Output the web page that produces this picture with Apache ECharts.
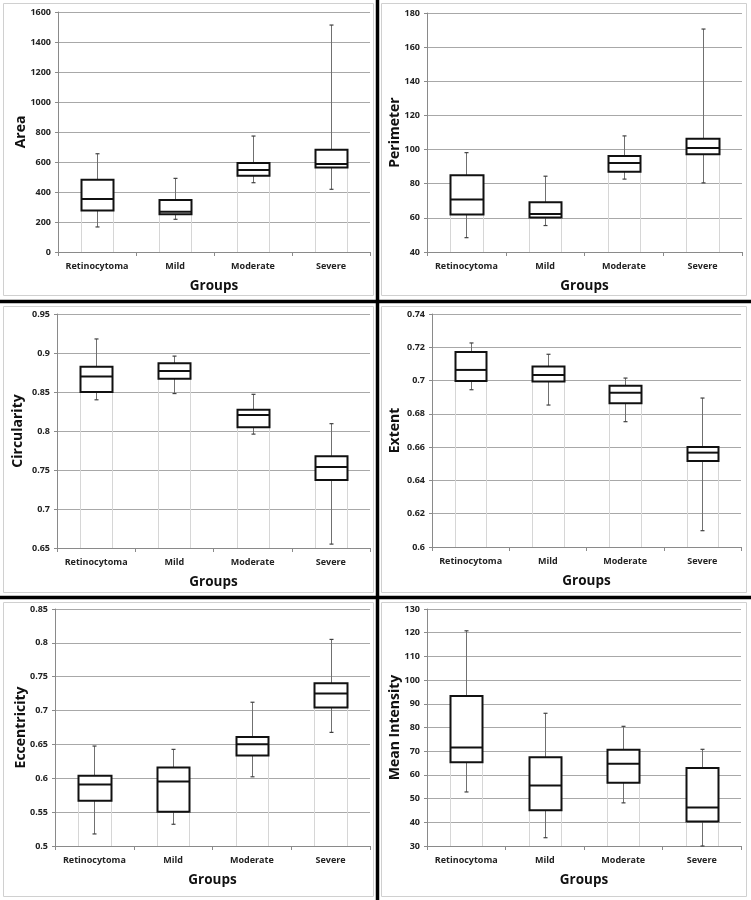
<!DOCTYPE html>
<html><head><meta charset="utf-8">
<script src="https://cdn.jsdelivr.net/npm/echarts/dist/echarts.min.js"></script>
<style>html,body{margin:0;padding:0;background:#fff}#c{width:751px;height:900px}</style>
</head><body><div id="c"></div>
<script>
const categories = ['Retinocytoma', 'Mild', 'Moderate', 'Severe'];
const xAxisTitle = 'Groups';
// each entry: [min, Q1, median, Q3, max] per category
const areaValues = [[167, 276, 353, 482, 655], [218, 251, 268, 347, 491], [462, 509, 547, 593, 773], [418, 564, 587, 682, 1513]];
const perimeterValues = [[48.4, 61.9, 70.7, 85, 98.2], [55.5, 60.2, 62.3, 69.2, 84.4], [82.7, 87, 92.1, 96.2, 108], [80.5, 97.2, 100.9, 106.4, 170.6]];
const circularityValues = [[0.840, 0.850, 0.870, 0.8825, 0.918], [0.848, 0.867, 0.877, 0.887, 0.896], [0.796, 0.8047, 0.8205, 0.8274, 0.847], [0.655, 0.7372, 0.7538, 0.7675, 0.8094]];
const extentValues = [[0.6945, 0.6997, 0.7064, 0.7172, 0.7226], [0.6853, 0.6995, 0.7033, 0.7084, 0.7158], [0.6753, 0.6863, 0.6927, 0.6969, 0.7015], [0.6098, 0.6517, 0.6567, 0.6601, 0.6895]];
const eccentricityValues = [[0.5178, 0.5667, 0.5909, 0.6037, 0.6476], [0.5321, 0.5504, 0.5953, 0.616, 0.6427], [0.6022, 0.6338, 0.6501, 0.661, 0.7123], [0.6678, 0.7044, 0.7252, 0.7405, 0.8051]];
const intensityValues = [[52.8, 65.3, 71.6, 93.3, 120.8], [33.5, 45.1, 55.5, 67.5, 86], [48.2, 56.7, 64.7, 70.6, 80.5], [30, 40.3, 46.2, 62.9, 70.8]];

const panelTitles = ['Area', 'Perimeter', 'Circularity', 'Extent', 'Eccentricity', 'Mean Intensity'];
const panelData = [areaValues, perimeterValues, circularityValues, extentValues, eccentricityValues, intensityValues];
const yMins = [0, 40, 0.65, 0.6, 0.5, 30];
const yMaxs = [1600, 180, 0.95, 0.74, 0.85, 130];
const yIntervals = [200, 20, 0.05, 0.02, 0.05, 10];

// layout (pixels)
const grids = [
  {left: 58, top: 12, width: 312, height: 240},
  {left: 427, top: 13, width: 315, height: 239},
  {left: 57, top: 314, width: 313, height: 234},
  {left: 432, top: 314, width: 309, height: 233},
  {left: 55, top: 609, width: 315, height: 237},
  {left: 427, top: 609, width: 314, height: 237}
];
const yNameGaps = [30, 25, 32, 30, 27, 25];

const FONT = '"Open Sans", sans-serif';

function makeRender(p) {
  return function (params, api) {
    const idx = api.value(0);
    const vmin = api.value(1), q1 = api.value(2), med = api.value(3), q3 = api.value(4), vmax = api.value(5);
    const bw = api.size([1, 0])[0] * 0.41;
    const cx = api.coord([idx, med])[0];
    const y = v => api.coord([idx, v])[1];
    const x0 = Math.round(cx - bw / 2) + 0.5, x1 = Math.round(cx + bw / 2) + 0.5;
    const yb = y(yMins[p]);
    const ymin = y(vmin), yq1 = y(q1), ymed = y(med), yq3 = y(q3), ymax = y(vmax);
    const cxr = Math.round(cx) + 0.5;
    const faint = {stroke: '#d6d6d6', lineWidth: 1};
    const whisk = {stroke: '#707070', lineWidth: 1};
    const cap = {stroke: '#404040', lineWidth: 1.2};
    return {
      type: 'group',
      children: [
        {type: 'line', shape: {x1: x0, y1: yq1, x2: x0, y2: yb}, style: faint},
        {type: 'line', shape: {x1: x1, y1: yq1, x2: x1, y2: yb}, style: faint},
        {type: 'line', shape: {x1: cxr, y1: ymax, x2: cxr, y2: yq3}, style: whisk},
        {type: 'line', shape: {x1: cxr, y1: yq1, x2: cxr, y2: ymin}, style: whisk},
        {type: 'line', shape: {x1: cxr - 2, y1: ymax, x2: cxr + 2, y2: ymax}, style: cap},
        {type: 'line', shape: {x1: cxr - 2, y1: ymin, x2: cxr + 2, y2: ymin}, style: cap},
        {type: 'rect', shape: {x: x0, y: yq3, width: x1 - x0, height: yq1 - yq3}, style: {fill: '#fff', stroke: '#111', lineWidth: 2}},
        {type: 'line', shape: {x1: x0, y1: ymed, x2: x1, y2: ymed}, style: {stroke: '#111', lineWidth: 2}}
      ]
    };
  };
}

const option = {
  animation: false,
  backgroundColor: '#fff',
  grid: grids.map(g => Object.assign({containLabel: false}, g)),
  xAxis: grids.map((g, i) => ({
    type: 'category', gridIndex: i, data: categories,
    name: xAxisTitle, nameLocation: 'middle', nameGap: 27, nameMoveOverlap: false,
    nameTextStyle: {fontFamily: FONT, fontWeight: 'bold', fontSize: 13.5, color: '#111'},
    axisLine: {lineStyle: {color: '#8a8a8a', width: 1}},
    axisTick: {show: true, length: 4, lineStyle: {color: '#8a8a8a'}},
    axisLabel: {fontFamily: FONT, fontWeight: 'bold', fontSize: 9, color: '#222', margin: 10, interval: 0, hideOverlap: false},
    splitLine: {show: false}
  })),
  yAxis: grids.map((g, i) => ({
    type: 'value', gridIndex: i, min: yMins[i], max: yMaxs[i], interval: yIntervals[i],
    name: panelTitles[i], nameLocation: 'middle', nameGap: yNameGaps[i], nameMoveOverlap: false,
    nameTextStyle: {fontFamily: FONT, fontWeight: 'bold', fontSize: 14, color: '#111'},
    axisLine: {show: true, lineStyle: {color: '#8a8a8a', width: 1}},
    axisTick: {show: true, length: 3, lineStyle: {color: '#8a8a8a'}},
    axisLabel: {fontFamily: FONT, fontWeight: 'bold', fontSize: 9, color: '#222', margin: 7,
      formatter: v => String(Math.round(v * 10000) / 10000)},
    splitLine: {show: true, lineStyle: {color: '#a8a8a8', width: 1}}
  })),
  series: panelData.map((vals, i) => ({
    type: 'custom', xAxisIndex: i, yAxisIndex: i,
    renderItem: makeRender(i),
    encode: {x: 0, y: [1, 2, 3, 4, 5]},
    data: vals.map((v, k) => [k].concat(v)),
    z: 5
  })),
  graphic: [
    {type: 'rect', shape: {x: 3.5, y: 3.5, width: 370, height: 292}, style: {fill: 'none', stroke: '#d0d0d0', lineWidth: 1}, z: 0},
    {type: 'rect', shape: {x: 381.5, y: 3.5, width: 365, height: 292}, style: {fill: 'none', stroke: '#d0d0d0', lineWidth: 1}, z: 0},
    {type: 'rect', shape: {x: 3.5, y: 306.5, width: 370, height: 286}, style: {fill: 'none', stroke: '#d0d0d0', lineWidth: 1}, z: 0},
    {type: 'rect', shape: {x: 381.5, y: 306.5, width: 365, height: 286}, style: {fill: 'none', stroke: '#d0d0d0', lineWidth: 1}, z: 0},
    {type: 'rect', shape: {x: 3.5, y: 602.5, width: 370, height: 294}, style: {fill: 'none', stroke: '#d0d0d0', lineWidth: 1}, z: 0},
    {type: 'rect', shape: {x: 381.5, y: 602.5, width: 365, height: 294}, style: {fill: 'none', stroke: '#d0d0d0', lineWidth: 1}, z: 0},
    {type: 'line', shape: {x1: 377.5, y1: 0, x2: 377.5, y2: 900}, style: {stroke: '#000', lineWidth: 3.5}, z: 10},
    {type: 'line', shape: {x1: 0, y1: 301.5, x2: 751, y2: 301.5}, style: {stroke: '#000', lineWidth: 3.5}, z: 10},
    {type: 'line', shape: {x1: 0, y1: 597.5, x2: 751, y2: 597.5}, style: {stroke: '#000', lineWidth: 3.5}, z: 10}
  ]
};
const chart = echarts.init(document.getElementById('c'), null, {renderer: 'canvas'});
chart.setOption(option);
</script>
</body></html>
